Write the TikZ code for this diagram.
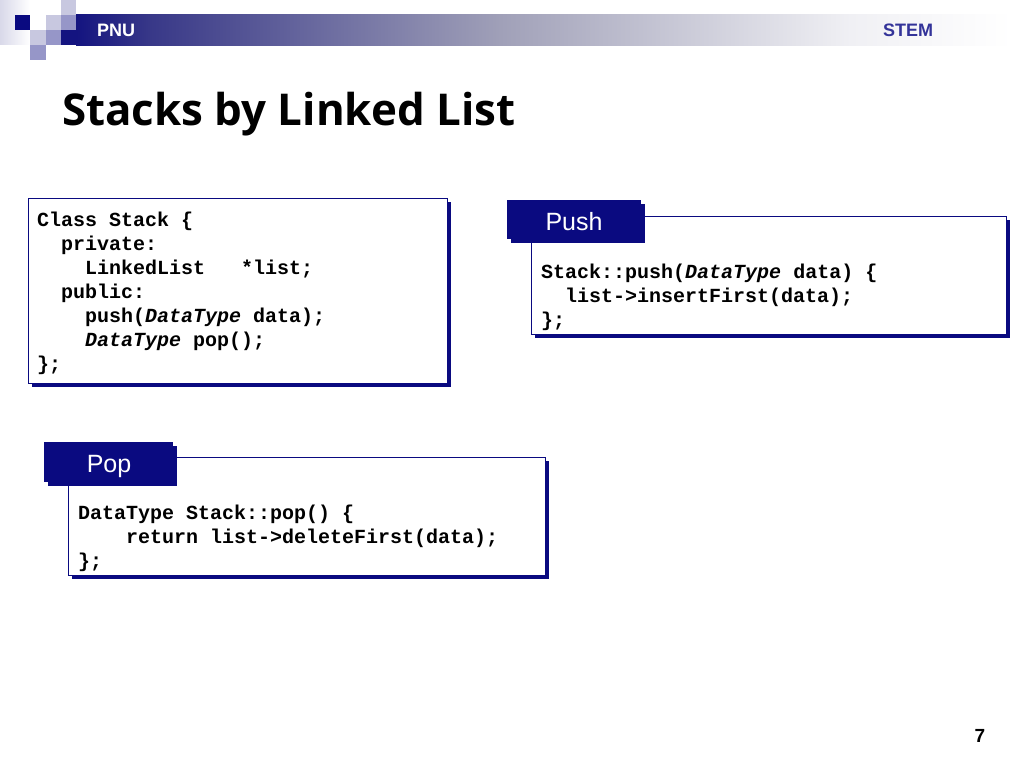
\documentclass[tikz,border=0pt]{standalone}
\usepackage{fontspec}
\setmainfont{Liberation Sans}
\newfontfamily\codefont{Liberation Mono}
\newfontfamily\titlefont{Open Sans}
\definecolor{navy}{RGB}{10,10,128}
\definecolor{stemblue}{RGB}{51,51,153}
\definecolor{lavlight}{RGB}{200,200,224}
\definecolor{lavmid}{RGB}{150,150,200}
\definecolor{bandA}{RGB}{20,20,128}
\definecolor{bandB}{RGB}{56,56,136}
\definecolor{bandC}{RGB}{160,160,184}
\definecolor{bandD}{RGB}{240,240,244}
\tikzset{
  codeline/.style={anchor=base west, inner sep=0pt, font=\codefont\bfseries\fontsize{20}{24}\selectfont},
  boxshadow/.style={fill=navy, draw=none},
  codebox/.style={fill=white, draw=navy, line width=1pt},
  tabtext/.style={anchor=base, inner sep=0pt, text=white, font=\fontsize{25}{30}\selectfont},
}
\begin{document}
\begin{tikzpicture}[x=1pt,y=-1pt]
\useasboundingbox (0,0) rectangle (1024,768);
\fill[white] (0,0) rectangle (1024,768);
% logo squares
\shade[left color=lavlight!70, right color=white] (0,0) rectangle (30,45);
\fill[navy] (15,15) rectangle (30,30);
\fill[lavlight] (46,15) rectangle (61,30);
\fill[lavmid] (61,15) rectangle (76,30);
\fill[lavlight] (61,0) rectangle (76,15);
\fill[lavlight] (30,30) rectangle (46,45);
\fill[lavmid] (46,30) rectangle (61,45);
\fill[bandA] (61,30) rectangle (76.5,45.5);
\fill[lavmid] (30,45) rectangle (46,60);
% header band
\shade[left color=bandA, right color=bandB] (76,15) rectangle (150.5,45.5);
\shade[left color=bandB, right color=bandC] (150,15) rectangle (500.5,45.5);
\shade[left color=bandC, right color=bandD] (500,15) rectangle (850.5,45.5);
\shade[left color=bandD, right color=white] (850,15) rectangle (1012,45.5);
\node[anchor=base west, inner sep=0pt, text=white, font=\bfseries\fontsize{18}{20}\selectfont] (pnu) at (97,36.5) {PNU};
\node[anchor=base west, inner sep=0pt, text=stemblue, font=\bfseries\fontsize{18}{20}\selectfont] (stem) at (883,36.5) {STEM};
% title
\node[anchor=base west, inner sep=0pt] (title) at (62,125) {\resizebox{453pt}{!}{\titlefont\bfseries Stacks by Linked List}};
% class box
\fill[boxshadow] (32,202) rectangle (451,387);
\draw[codebox] (28,198) rectangle (447,383);
\node[codeline] (c1) at (37,226) {Class Stack \{};
\node[codeline] (c2) at (61,250) {private:};
\node[codeline] (c3) at (85,274) {LinkedList\ \ \ *list;};
\node[codeline] (c4) at (61,298) {public:};
\node[codeline] (c5) at (85,322) {push(\textit{DataType} data);};
\node[codeline] (c6) at (85,346) {\textit{DataType} pop();};
\node[codeline] (c7) at (37,370) {\};};
% push box
\fill[boxshadow] (535,220) rectangle (1010,338);
\draw[codebox] (531,216) rectangle (1006,334);
\fill[navy] (511,204) rectangle (645,243);
\fill[navy] (507,200) rectangle (641,239);
\node[tabtext] (pushtab) at (574,230) {Push};
\node[codeline] (p1) at (541,278) {Stack::push(\textit{DataType} data) \{};
\node[codeline] (p2) at (565,302) {list->insertFirst(data);};
\node[codeline] (p3) at (541,326) {\};};
% pop box
\fill[boxshadow] (72,461) rectangle (549,579);
\draw[codebox] (68,457) rectangle (545,575);
\fill[navy] (48,446) rectangle (177,486);
\fill[navy] (44,442) rectangle (173,482);
\node[tabtext] (poptab) at (109,472) {Pop};
\node[codeline] (q1) at (78,519) {DataType Stack::pop() \{};
\node[codeline] (q2) at (126,543) {return list->deleteFirst(data);};
\node[codeline] (q3) at (78,567) {\};};
% page number
\node[anchor=base, inner sep=0pt, font=\bfseries\fontsize{19}{22}\selectfont] (pg) at (980,742) {7};
\end{tikzpicture}
\end{document}
